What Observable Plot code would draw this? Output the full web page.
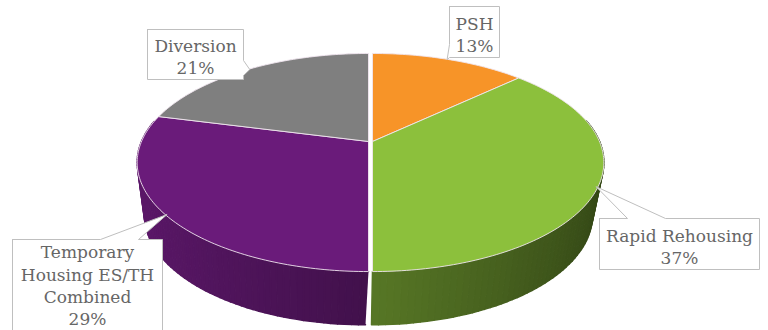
<!DOCTYPE html>
<html>
<head>
<meta charset="utf-8">
<script src="https://cdn.jsdelivr.net/npm/d3@7"></script>
<script src="https://cdn.jsdelivr.net/npm/@observablehq/plot@0.6"></script>
<style>
  html, body { margin: 0; padding: 0; background: #fff; }
  svg { display: block; }
</style>
</head>
<body>
<div id="chart"></div>
<script>
// Funding shares, clockwise from twelve o'clock
const categories = ["PSH", "Rapid Rehousing", "Temporary\nHousing ES/TH\nCombined", "Diversion"];
const shares = [13, 37, 29, 21];
const sliceColors = ["#f79428", "#8cc03c", "#6a1b7a", "#7f7f7f"];

// Pie projection: a tilted disc seen in perspective, so the far slices look narrower
const TOP = {cx: 370, cy: 141, a: 227, h: 105, k: 0.1927};
const BOTTOM = {cx: 368, cy: 193, a: 217, h: 106, k: 0.1927};
const TOP_GAP = {left: -2, right: 2};
const BOTTOM_GAP = {left: -3, right: 3};

// Label boxes: [left, top, right, bottom], the edge carrying the pointer, its base, text centre
const boxes = [
  {rect: [449, 6, 499, 57], edge: "left", base: [[449, 57], [449, 44]], text: [474, 33]},
  {rect: [599, 218, 759, 269], edge: "top", base: [[627, 218], [665, 218]], text: [679, 245]},
  {rect: [12, 239, 162, 345], edge: "top", base: [[100, 239], [138, 239]], text: [87, 284]},
  {rect: [147, 29, 243, 79], edge: "right", base: [[243, 60], [243, 75]], text: [195, 55]}
];

const project = (p, deg, dx = 0) => {
  const t = deg * Math.PI / 180;
  const u = Math.sin(t), v = Math.cos(t), w = 1 + p.k * v;
  return [p.cx + dx + p.a * u / w, p.cy - p.h * v / w];
};

const total = d3.sum(shares);
let running = 0;
const slices = shares.map((s, i) => {
  const start = running / total * 360;
  running += s;
  const end = running / total * 360;
  const mid = (start + end) / 2;
  return {i, start, end, mid, side: mid < 180 ? "right" : "left"};
});

const sweep = (a, b, step) => {
  const n = Math.max(2, Math.ceil((b - a) / step));
  return d3.range(n + 1).map(j => a + (b - a) * j / n);
};

// Side wall: narrow quads shaded by how far they face away from the light on the left.
// Only the near half of the rim can be seen, so the far quads are left out.
const wallPts = [];
const strips = [];
for (const s of slices) {
  const angles = sweep(s.start, s.end, 1.5);
  for (let j = 0; j < angles.length - 1; j++) {
    const a0 = angles[j], a1 = angles[j + 1], m = (a0 + a1) / 2;
    const depth = Math.cos(m * Math.PI / 180);
    if (depth > 0.2) continue;
    const shade = 0.62 - 0.25 * Math.sin(m * Math.PI / 180);
    const c = d3.rgb(sliceColors[s.i]);
    strips.push({
      depth,
      color: d3.rgb(c.r * shade, c.g * shade, c.b * shade).formatHex(),
      corners: [
        project(TOP, a0, TOP_GAP[s.side]),
        project(TOP, a1, TOP_GAP[s.side]),
        project(BOTTOM, a1, BOTTOM_GAP[s.side]),
        project(BOTTOM, a0, BOTTOM_GAP[s.side])
      ]
    });
  }
}
strips.sort((p, q) => q.depth - p.depth);
strips.forEach((st, id) => st.corners.forEach(([x, y]) => wallPts.push({id, x, y, color: st.color})));

// Top face of each slice
const facePts = [];
for (const s of slices) {
  const dx = TOP_GAP[s.side];
  const apex = [TOP.cx + dx, TOP.cy];
  const ring = sweep(s.start, s.end, 1).map(a => project(TOP, a, dx));
  [apex, ...ring, apex].forEach(([x, y]) => facePts.push({id: s.i, x, y, color: sliceColors[s.i]}));
}

// Callouts: each pointer ends at the outer edge of its slice, at the slice's middle angle
const calloutPts = [];
const labels = [];
boxes.forEach((b, i) => {
  const [l, t, r, bt] = b.rect;
  const tip = project(TOP, slices[i].mid);
  const wedge = [b.base[0], tip, b.base[1]];
  const outline = [
    [l, t], ...(b.edge === "top" ? wedge : []),
    [r, t], ...(b.edge === "right" ? wedge : []),
    [r, bt],
    [l, bt], ...(b.edge === "left" ? wedge : []),
    [l, t]
  ];
  outline.forEach(([x, y]) => calloutPts.push({id: i, x, y}));
  labels.push({x: b.text[0], y: b.text[1], text: `${categories[i]}\n${shares[i]}%`});
});

const chart = Plot.plot({
  width: 768,
  height: 330,
  margin: 0,
  x: {domain: [0, 768], range: [0, 768], axis: null},
  y: {domain: [0, 330], range: [0, 330], axis: null},
  color: {type: "identity"},
  style: {background: "#fff"},
  marks: [
    Plot.line(wallPts, {x: "x", y: "y", z: "id", fill: "color", stroke: "color", strokeWidth: 1.5}),
    Plot.line(facePts, {x: "x", y: "y", z: "id", fill: "color", stroke: "#f1e6f0", strokeWidth: 1, strokeOpacity: 0.9}),
    Plot.line(calloutPts, {x: "x", y: "y", z: "id", fill: "#fff", stroke: "#bfbfbf", strokeWidth: 1}),
    Plot.text(labels, {
      x: "x", y: "y", text: "text",
      fontFamily: "'DejaVu Serif', serif",
      fontSize: 17,
      lineHeight: 1.3,
      lineAnchor: "middle",
      textAnchor: "middle",
      fill: "#666666"
    })
  ]
});
document.getElementById("chart").append(chart);
</script>
</body>
</html>
